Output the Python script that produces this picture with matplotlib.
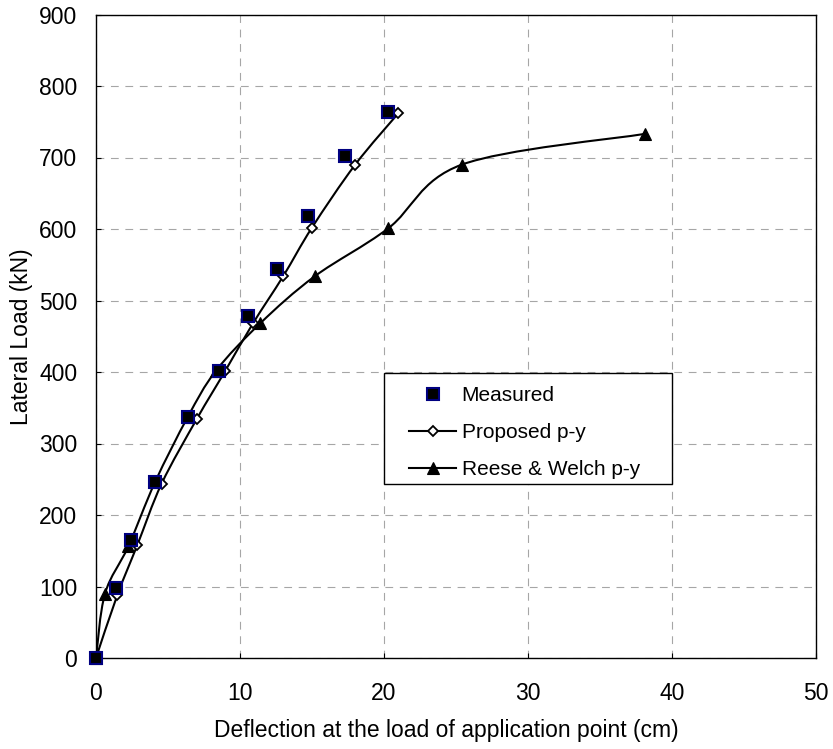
import matplotlib
matplotlib.use("Agg")
import matplotlib.pyplot as plt
from matplotlib.path import Path
from matplotlib.patches import PathPatch, Rectangle
from matplotlib.lines import Line2D
import numpy as np

plt.rcParams['font.family'] = ['Liberation Sans', 'DejaVu Sans']

# ---- data ----
measured_x = [0, 1.37, 2.43, 4.1, 6.37, 8.56, 10.58, 12.6, 14.7, 17.3, 20.3]
measured_y = [0, 98, 165, 246, 337, 401, 478, 544, 618, 702, 763]

proposed_x = [0, 1.48, 2.87, 4.56, 6.99, 8.96, 10.9, 13.0, 15.0, 18.0, 21.0]
proposed_y = [0, 88, 158, 244, 334, 401, 468, 534, 602, 690, 762]

reese_x = [0, 0.625, 2.24, 4.1, 6.37, 8.3, 11.4, 15.2, 20.3, 25.4, 38.1]
reese_y = [0, 90, 156, 246, 337, 401, 468, 534, 601, 690, 733]

x_ticks = [0, 10, 20, 30, 40, 50]
y_ticks = [0, 100, 200, 300, 400, 500, 600, 700, 800, 900]

labels = ["Measured", "Proposed p-y", "Reese & Welch p-y"]
x_label = "Deflection at the load of application point (cm)"
y_label = "Lateral Load (kN)"


def smooth_path(xs, ys):
    """Excel-like smoothed line: cubic Bezier through the points (Catmull-Rom tangents)."""
    pts = np.column_stack([xs, ys]).astype(float)
    n = len(pts)
    verts = [pts[0]]
    codes = [Path.MOVETO]
    for i in range(n - 1):
        p0 = pts[i - 1] if i > 0 else pts[i]
        p1 = pts[i]
        p2 = pts[i + 1]
        p3 = pts[i + 2] if i + 2 < n else pts[i + 1]
        c1 = p1 + (p2 - p0) / 6.0
        c2 = p2 - (p3 - p1) / 6.0
        verts += [c1, c2, p2]
        codes += [Path.CURVE4] * 3
    return Path(verts, codes)


fig = plt.figure(figsize=(8.33, 7.49), dpi=100)
ax = fig.add_axes([96 / 833, 1 - 658 / 749, 720 / 833, 643.5 / 749])

ax.set_xlim(0, 50)
ax.set_ylim(0, 900)
ax.set_xticks(x_ticks)
ax.set_yticks(y_ticks)

grid_style = dict(color='#a6a6a6', linewidth=0.8, linestyle=(0, (7, 6)))
ax.grid(True, **grid_style)
ax.set_axisbelow(True)

for s in ax.spines.values():
    s.set_linewidth(1.0)
    s.set_color('black')

ax.tick_params(axis='both', direction='in', length=3.6, width=0.8, labelsize=16.5)
ax.tick_params(axis='x', pad=17)
ax.tick_params(axis='y', pad=13.5)

lw = 1.5
# Reese & Welch
ax.add_patch(PathPatch(smooth_path(reese_x, reese_y), facecolor='none',
                       edgecolor='black', linewidth=lw, zorder=3))
ax.plot(reese_x, reese_y, ls='none', marker='^', ms=9.3, mfc='black', mec='black',
        mew=0.8, zorder=4, clip_on=False)
# Proposed
ax.add_patch(PathPatch(smooth_path(proposed_x, proposed_y), facecolor='none',
                       edgecolor='black', linewidth=lw, zorder=3))
ax.plot(proposed_x, proposed_y, ls='none', marker='D', ms=5.6, mfc='white', mec='black',
        mew=1.3, zorder=4, clip_on=False)
# Measured
ax.plot(measured_x, measured_y, ls='none', marker='s', ms=8.3, mfc='black', mec='#000080',
        mew=1.5, zorder=5, clip_on=False)

# legend frame
ax.add_patch(Rectangle((0.4, 0.270), 0.4, 0.173, transform=ax.transAxes,
                       facecolor='white', edgecolor='black', linewidth=1.0, zorder=6))

handles = [
    Line2D([], [], ls='none', marker='s', ms=8.3, mfc='black', mec='#000080', mew=1.5),
    Line2D([], [], color='black', lw=lw, marker='D', ms=5.6, mfc='white', mec='black', mew=1.3),
    Line2D([], [], color='black', lw=lw, marker='^', ms=9.3, mfc='black', mec='black', mew=0.8),
]
leg = ax.legend(handles, labels, loc='upper left',
                bbox_to_anchor=((409 - 96) / 720, (658 - 386) / 643.5),
                frameon=False, fontsize=15, borderpad=0, borderaxespad=0,
                handlelength=2.26, handletextpad=0.27, labelspacing=0.86,
                numpoints=1)
leg.set_zorder(7)

fig.text(446 / 833, 1 - 737 / 749, x_label, ha='center', va='baseline', fontsize=16.5)
fig.text(22 / 833, 1 - 337 / 749, y_label, ha='center', va='center', rotation=90,
         fontsize=16.5)

fig.savefig("out.png", dpi=100)
